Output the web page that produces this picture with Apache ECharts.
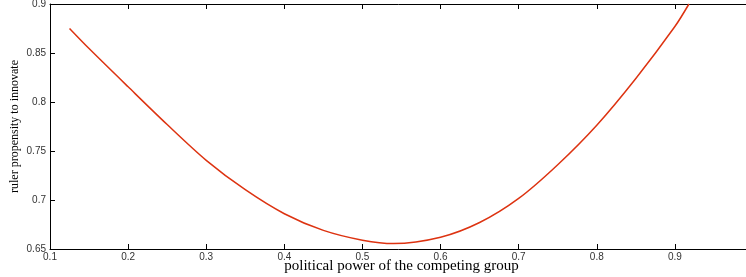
<!DOCTYPE html>
<html>
<head>
<meta charset="utf-8">
<script src="https://cdn.jsdelivr.net/npm/echarts@6/dist/echarts.min.js"></script>
<style>
html,body{margin:0;padding:0;background:#fff;}
#chart{width:746px;height:277px;}
</style>
</head>
<body>
<div id="chart"></div>
<script>
// Data
const powerX = [0.125, 0.15, 0.2, 0.25, 0.3, 0.35, 0.4, 0.45, 0.5, 0.54, 0.6, 0.65, 0.7, 0.75, 0.8, 0.85, 0.9, 0.918];
const propensityY = [0.875, 0.8545, 0.8155, 0.777, 0.7405, 0.7105, 0.686, 0.669, 0.659, 0.6555, 0.662, 0.677, 0.7016, 0.736, 0.7763, 0.824, 0.877, 0.900];
const xTicks = {min: 0.1, max: 1.0, step: 0.1};
const yTicks = {min: 0.65, max: 0.9, step: 0.05};
const xLabel = 'political power of the competing group';
const yLabel = 'ruler propensity to innovate';

const chart = echarts.init(document.getElementById('chart'));
const tickFont = {fontFamily: 'Liberation Sans', fontSize: 10, color: '#333'};
const fmt = v => String(+v.toFixed(2));
chart.setOption({
  animation: false,
  grid: {left: 50, right: -7, top: 4, bottom: 28, show: false, outerBoundsMode: 'none', containLabel: false},
  xAxis: [{
    type: 'value', min: xTicks.min, max: xTicks.max, interval: xTicks.step,
    position: 'bottom',
    axisLine: {show: true, onZero: false, lineStyle: {color: '#000', width: 1}},
    axisTick: {show: true, inside: true, length: 5, lineStyle: {color: '#000'}},
    axisLabel: Object.assign({margin: 3, showMaxLabel: false, formatter: fmt}, tickFont),
    splitLine: {show: false},
    name: xLabel, nameLocation: 'middle', nameGap: 10, nameMoveOverlap: false,
    nameTextStyle: {fontFamily: 'Liberation Serif', fontSize: 15, color: '#000', verticalAlign: 'top'}
  }, {
    type: 'value', min: xTicks.min, max: xTicks.max, interval: xTicks.step,
    position: 'top',
    axisLine: {show: true, onZero: false, lineStyle: {color: '#000', width: 1}},
    axisTick: {show: true, inside: true, length: 5, lineStyle: {color: '#000'}},
    axisLabel: {show: false},
    splitLine: {show: false}
  }],
  yAxis: [{
    type: 'value', min: yTicks.min, max: yTicks.max, interval: yTicks.step,
    axisLine: {show: true, onZero: false, lineStyle: {color: '#000', width: 1}},
    axisTick: {show: true, inside: true, length: 5, lineStyle: {color: '#000'}},
    axisLabel: Object.assign({margin: 4, formatter: fmt}, tickFont),
    splitLine: {show: false},
    name: yLabel, nameLocation: 'middle', nameGap: 29, nameRotate: 90, nameMoveOverlap: false,
    nameTextStyle: {fontFamily: 'Liberation Serif', fontSize: 12, color: '#000'}
  }],
  series: [{
    type: 'line',
    data: powerX.map((x, i) => [x, propensityY[i]]),
    smooth: 0.3,
    showSymbol: false,
    clip: true,
    lineStyle: {color: '#dd3311', width: 1.5}
  }]
});
</script>
</body>
</html>
